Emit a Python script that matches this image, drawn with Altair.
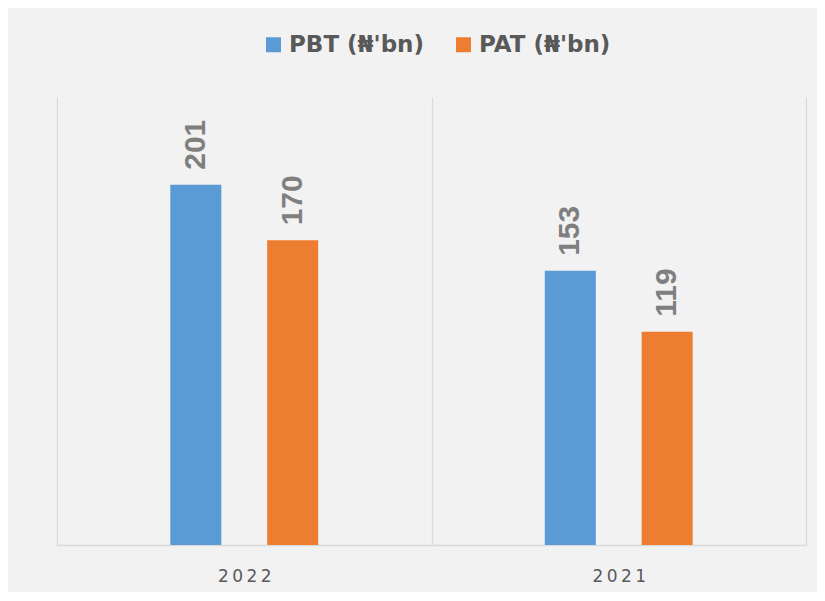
import altair as alt
import pandas as pd

years = ["2022", "2021"]
series = ["PBT (₦'bn)", "PAT (₦'bn)"]
pbt = [201, 153]
pat = [170, 119]
colors = ["#5b9bd5", "#ed7d31"]

rows = []
for i, yr in enumerate(years):
    rows.append({"year": yr, "series": series[0], "value": pbt[i]})
    rows.append({"year": yr, "series": series[1], "value": pat[i]})
df = pd.DataFrame(rows)

x_enc = alt.X(
    "year:N",
    sort=years,
    scale=alt.Scale(paddingInner=0, paddingOuter=0),
    axis=alt.Axis(
        title=None,
        labelAngle=0,
        tickBand="extent",
        grid=True,
        gridColor="#d9d9d9",
        gridWidth=1.2,
        ticks=False,
        domainColor="#d9d9d9",
        domainWidth=1.5,
        labelFont="DejaVu Sans",
        labelFontSize=17,
        labelColor="#595959",
        labelPadding=23,
        labelExpr="join(split(datum.label, ''), '\u2009')",
    ),
)
xoff_enc = alt.XOffset(
    "series:N", sort=series,
    scale=alt.Scale(paddingInner=0.134, paddingOuter=1),
)
y_enc = alt.Y("value:Q", scale=alt.Scale(domain=[0, 250]), axis=None)

base = alt.Chart(df).encode(x=x_enc, xOffset=xoff_enc, y=y_enc)

bars = base.mark_bar(width=51).encode(
    color=alt.Color(
        "series:N",
        sort=series,
        scale=alt.Scale(domain=series, range=colors),
        legend=alt.Legend(
            title=None,
            orient="none",
            direction="horizontal",
            legendX=205,
            legendY=-64,
            symbolType="square",
            symbolSize=225,
            symbolStrokeWidth=0,
            symbolOpacity=1,
            labelFont="DejaVu Sans",
            labelFontSize=23,
            labelFontWeight="bold",
            labelColor="#595959",
            labelOffset=4,
            columnPadding=28,
            labelLimit=300,
        ),
    )
)

labels = base.mark_text(
    angle=270,
    align="left",
    baseline="middle",
    dx=15,
    font="Liberation Sans",
    fontSize=30,
    fontWeight="bold",
    color="#7f7f7f",
).encode(text=alt.Text("value:Q"))

chart = (
    alt.layer(bars, labels)
    .properties(
        width=749,
        height=448,
        autosize=alt.AutoSizeParams(type="none"),
        padding={"left": 49, "top": 89, "right": 11, "bottom": 47},
        background="#f2f2f2",
    )
    .configure_view(stroke=None)
)

chart.save("out.html", embed_options={"renderer": "svg", "actions": False})
